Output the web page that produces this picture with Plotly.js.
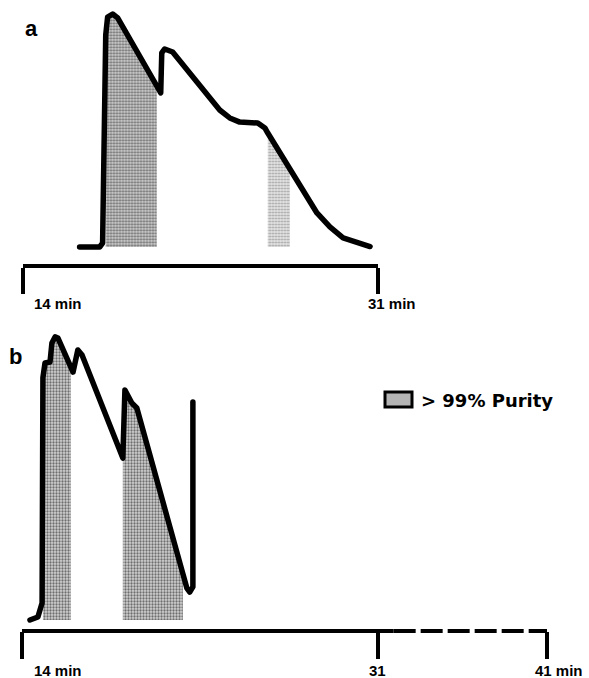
<!DOCTYPE html>
<html>
<head>
<meta charset="utf-8">
<script src="https://cdn.plot.ly/plotly-3.0.1.min.js"></script>
<style>
  html, body { margin: 0; padding: 0; background: #fff; }
  #chart { width: 589px; height: 678px; }
  .js-plotly-plot .scatterlayer .js-line { stroke-linejoin: round !important; stroke-linecap: round !important; }
</style>
</head>
<body>
<div id="chart"></div>
<script>
// ---- Run a: elution profile, 14–31 min (relative detector signal) ----
const timeA   = [16.73, 17.69, 17.83, 17.98, 18.07, 18.31, 18.55, 20.42, 20.47, 20.61, 20.66, 20.80, 21.18,
                 23.43, 23.91, 24.39, 25.25, 25.59, 25.73, 26.79, 28.08, 28.70, 29.33, 30.62];
const signalA = [0, 0, 1.7, 91.0, 98.7, 100, 98.3, 69.0, 68.7, 66.1, 83.3, 85.0, 83.7,
                 58.8, 55.4, 53.6, 53.2, 51.1, 48.9, 33.5, 14.6, 8.6, 3.9, 0.2];
// fractions collected at > 99% purity (start, end in min)
const pureStartA = [17.98, 25.73];
const pureEndA   = [20.42, 26.79];

// ---- Run b: elution profile, 14–41 min ----
const timeB   = [14.38, 14.76, 14.96, 15.00, 15.10, 15.34, 15.43, 15.58, 15.72, 16.34, 16.44, 16.67, 16.87,
                 18.82, 18.86, 18.92, 19.25, 19.49, 21.69, 21.88, 22.02, 22.17, 22.17];
const signalB = [0, 1.3, 7.3, 104.0, 110.3, 110.7, 118.9, 121.5, 121.0, 108.4, 106.4, 115.9, 113.7,
                 69.5, 97.9, 98.7, 93.1, 91.0, 19.9, 13.7, 12.0, 14.2, 93.6];
const pureStartB = [15.00, 18.82];
const pureEndB   = [16.34, 21.69];

// axis ticks
const tickMinA = [14, 31];
const tickTextA = ['14 min', '31 min'];
const tickMinB = [14, 31, 41];
const tickTextB = ['14 min', '31', '41 min'];

// run b's time axis is compressed after the break (dashed part)
const BREAK_MIN = 31, BREAK_SCALE = 0.81;
function axisPos(t) { return t <= BREAK_MIN ? t : BREAK_MIN + (t - BREAK_MIN) * BREAK_SCALE; }

// ---- page geometry (px) ----
const W = 589, H = 678;
const px = x => x / W;
const py = y => (H - y) / H;

const INK = '#000';
const STIPPLE_DARK  = {shape: '.', fgcolor: '#6e6e6e', bgcolor: '#d2d2d2', size: 3, solidity: 0.45};
const STIPPLE_LIGHT = {shape: '.', fgcolor: '#a0a0a0', bgcolor: '#e6e6e6', size: 3, solidity: 0.4};

function band(times, values, t0, t1, xa, ya, pattern) {
  const xs = [], ys = [];
  times.forEach((t, i) => { if (t >= t0 - 1e-9 && t <= t1 + 1e-9) { xs.push(t); ys.push(values[i]); } });
  return {
    type: 'scatter', mode: 'lines', x: xs.map(axisPos), y: ys, xaxis: xa, yaxis: ya,
    fill: 'tozeroy', fillcolor: pattern.bgcolor, fillpattern: pattern,
    line: {width: 0, color: pattern.bgcolor},
    hoverinfo: 'skip', showlegend: false
  };
}

const traces = [];
pureStartA.forEach((s, i) => traces.push(band(timeA, signalA, s, pureEndA[i], 'x', 'y', i === 0 ? STIPPLE_DARK : STIPPLE_LIGHT)));
pureStartB.forEach((s, i) => traces.push(band(timeB, signalB, s, pureEndB[i], 'x2', 'y2', STIPPLE_DARK)));
traces.push({type: 'scatter', mode: 'lines', x: timeA, y: signalA, xaxis: 'x', yaxis: 'y',
             line: {color: INK, width: 5.5}, showlegend: false, hoverinfo: 'skip'});
traces.push({type: 'scatter', mode: 'lines', x: timeB.map(axisPos), y: signalB, xaxis: 'x2', yaxis: 'y2',
             line: {color: INK, width: 5.5}, showlegend: false, hoverinfo: 'skip'});

const PX_PER_UNIT = 2.33;
const axisA = {y: 264, base: 247, top: 10};
const axisB = {y: 631, base: 620, top: 330};

const bold = (size, family) => ({family: family || 'Liberation Sans, Arial, sans-serif', size: size, color: INK, weight: 'bold'});

const xCommon = {
  showgrid: false, zeroline: false, showticklabels: false,
  ticks: 'outside', tickwidth: 4, tickcolor: INK, tickmode: 'array', fixedrange: true
};

const labelAnn = (text, xref, xval, xanchor, xshift, ypx, size) => ({
  text: text, xref: xref, x: xval, xanchor: xanchor, xshift: xshift,
  yref: 'paper', y: py(ypx), yanchor: 'middle', showarrow: false, font: bold(size)
});

const breakStart = axisPos(31.95);

const layout = {
  width: W, height: H, autosize: false,
  margin: {l: 0, r: 0, t: 0, b: 0},
  paper_bgcolor: '#fff', plot_bgcolor: 'rgba(0,0,0,0)',
  showlegend: false,
  xaxis: Object.assign({}, xCommon, {
    domain: [px(22.5), px(378)], range: [14, 31], anchor: 'y',
    showline: true, linewidth: 4, linecolor: INK,
    ticklen: 26, tickvals: tickMinA
  }),
  yaxis: {domain: [py(axisA.y), py(axisA.top)],
          range: [(axisA.base - axisA.y) / PX_PER_UNIT, (axisA.base - axisA.top) / PX_PER_UNIT],
          visible: false, fixedrange: true},
  xaxis2: Object.assign({}, xCommon, {
    domain: [px(22), px(547)], range: [14, axisPos(41)], anchor: 'y2',
    showline: false, ticklen: 27, tickvals: tickMinB.map(axisPos)
  }),
  yaxis2: {domain: [py(axisB.y), py(axisB.top)],
           range: [(axisB.base - axisB.y) / PX_PER_UNIT, (axisB.base - axisB.top) / PX_PER_UNIT],
           visible: false, fixedrange: true},
  shapes: [
    // run b time axis: solid up to the break, dashed beyond
    {type: 'line', xref: 'x2', yref: 'y2 domain', x0: 14, x1: breakStart, y0: 0, y1: 0,
     line: {color: INK, width: 4}},
    {type: 'line', xref: 'x2', yref: 'y2 domain', x0: breakStart, x1: axisPos(41), y0: 0, y1: 0,
     line: {color: INK, width: 4, dash: '22px,5px'}},
    // purity key swatch
    {type: 'rect', xref: 'paper', yref: 'paper', x0: px(385), x1: px(412), y0: py(407), y1: py(392),
     fillcolor: '#b4b4b4', line: {color: INK, width: 3}}
  ],
  annotations: [
    labelAnn(tickTextA[0], 'x', tickMinA[0], 'left', 9, 303, 15),
    labelAnn(tickTextA[1], 'x', tickMinA[1], 'center', 14, 303, 15),
    labelAnn(tickTextB[0], 'x2', axisPos(tickMinB[0]), 'left', 10, 670, 15),
    labelAnn(tickTextB[1], 'x2', axisPos(tickMinB[1]), 'center', 0, 670, 15),
    labelAnn(tickTextB[2], 'x2', axisPos(tickMinB[2]), 'center', 12, 670, 15),
    {text: 'a', xref: 'paper', yref: 'paper', x: px(31), y: py(29), xanchor: 'center', yanchor: 'middle',
     showarrow: false, font: bold(22)},
    {text: 'b', xref: 'paper', yref: 'paper', x: px(15), y: py(356), xanchor: 'center', yanchor: 'middle',
     showarrow: false, font: bold(22)},
    {text: '> 99% Purity', xref: 'paper', yref: 'paper', x: px(419), y: py(400), xanchor: 'left', yanchor: 'middle',
     showarrow: false, font: bold(18, 'DejaVu Sans, sans-serif')}
  ]
};

Plotly.newPlot('chart', traces, layout, {displayModeBar: false, staticPlot: true});
</script>
</body>
</html>
